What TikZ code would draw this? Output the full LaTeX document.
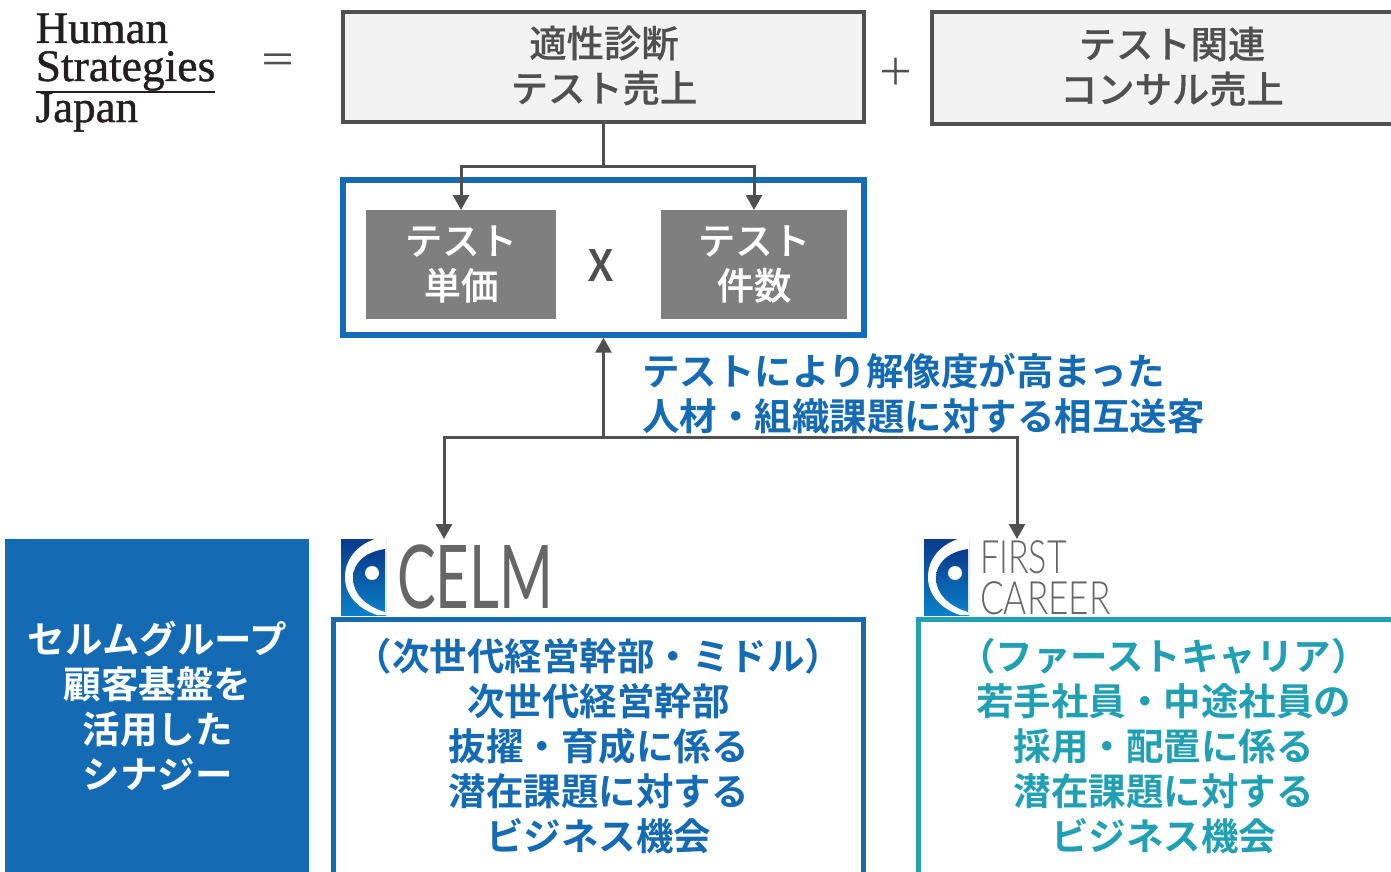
\documentclass[tikz,border=0pt]{standalone}
\usepackage{fontspec}
\setmainfont{Noto Sans CJK JP}
\newfontfamily\jpm[FakeBold=0.35]{Noto Sans CJK JP Medium}
\newfontfamily\jpb{Noto Sans CJK JP Bold}
\newfontfamily\logoserif[FakeBold=1]{Liberation Serif}
\newfontfamily\logosans{Lato Light}
\newfontfamily\logobig{Lato}
\usetikzlibrary{arrows.meta}
\definecolor{dk}{HTML}{505050}
\definecolor{bxf}{HTML}{F2F2F2}
\definecolor{gy}{HTML}{7F7F7F}
\definecolor{bl}{HTML}{156BB3}
\definecolor{tl}{HTML}{21A0B3}
\definecolor{lg}{HTML}{666666}
\definecolor{hsj}{HTML}{231F20}
\definecolor{emt}{HTML}{0B3A8C}
\definecolor{emb}{HTML}{0A80C8}
\tikzset{
  x=1pt,y=-1pt,
  bigbox/.style={draw=dk,line width=4.6pt,fill=bxf,inner sep=0pt},
  frame/.style={draw=#1,line width=5.4pt,fill=white,inner sep=0pt},
  tile/.style={fill=gy,inner sep=0pt,outer sep=0pt},
  med/.style={font=\jpm\fontsize{37.3}{45}\selectfont,align=center,inner sep=0pt,text=#1},
  bold/.style={font=\jpb\fontsize{37.5}{45}\selectfont,align=center,inner sep=0pt,text=#1},
  conn/.style={draw=dk,line width=3pt},
  tip/.style={conn,-{Triangle[length=15pt,width=16pt]}},
  logotext/.style={inner sep=0pt,anchor=base west,text=#1},
  emblem/.pic={
    \shade[top color=emt,bottom color=emb] (0,0) rectangle (45,76);
    \fill[white] (34,0) .. controls (14,7) and (4,22) .. (4,38) .. controls (4,57) and (18,70) .. (36,76) -- (45,76) -- (45,0) -- cycle;
    \shade[top color=emt,bottom color=emb] (44,10) .. controls (24,13) and (12,24) .. (12,39) .. controls (12,55) and (25,67) .. (44,73) -- cycle;
    \fill[white] (31,34) circle (7);
  }
}
\begin{document}
\begin{tikzpicture}
\useasboundingbox (0,0) rectangle (1391,872);
\fill[white] (0,0) rectangle (1391,872);
% brand
\node[logotext=hsj,font=\logoserif\fontsize{45}{45}\selectfont] (h1) at (35.5,43) {Human};
\node[logotext=hsj,font=\logoserif\fontsize{45}{45}\selectfont,xscale=1.012] (h2) at (35.5,81) {Strategies};
\node[logotext=hsj,font=\logoserif\fontsize{45}{45}\selectfont] (h3) at (35.5,122) {Japan};
\draw[hsj,line width=2pt] (36,92.5) -- (215,92.5);
\node[font=\fontsize{37}{37}\selectfont,text=dk,inner sep=0pt] (eq) at (278,63.5) {＝};
\node[font=\fontsize{37}{37}\selectfont,text=dk,inner sep=0pt] (pl) at (896,72) {＋};
% top boxes
\node[bigbox,minimum width=521pt,minimum height=110pt] (sales) at (603.5,67) {};
\node[bigbox,minimum width=568pt,minimum height=112pt] (cons) at (1216,68) {};
\node[med=dk] (salest) at (604,65.5) {適性診断\\テスト売上};
\node[med=dk] (const) at (1172,66.5) {テスト関連\\コンサル売上};
% formula
\node[frame=bl,minimum width=521pt,minimum height=155pt] (form) at (603.5,257.5) {};
\node[tile,minimum width=190pt,minimum height=109pt] (unit) at (461,264.5) {};
\node[tile,minimum width=186pt,minimum height=109pt] (cnt) at (754,264.5) {};
\node[med=white] (unitt) at (461,264) {テスト\\単価};
\node[med=white] (cntt) at (754,264) {テスト\\件数};
\node[font=\jpm\fontsize{43}{43}\selectfont,text=dk,inner sep=0pt] (times) at (600.5,265) {X};
% connectors top
\coordinate (split) at (603.5,166);
\draw[conn] (sales.south) -- (split);
\draw[tip] (split) -| (unit.north);
\draw[tip] (split) -| (cnt.north);
% synergy text
\node[bold=bl,align=left,anchor=west] (syn) at (642,393.5) {テストにより解像度が高まった\\人材・組織課題に対する相互送客};
% left panel
\node[fill=bl,inner sep=0pt,minimum width=304pt,minimum height=360pt,anchor=north west] (panel) at (5,539) {};
\node[bold=white] (panelt) at (157.5,706) {セルムグループ\\顧客基盤を\\活用した\\シナジー};
% logos
\pic at (341,539) {emblem};
\pic at (924,539) {emblem};
\node[logotext=lg,font=\logobig\fontsize{88}{88}\selectfont,xscale=0.66] (celm) at (397,608) {CELM};
\coordinate (celmt) at (444,539);
\node[logotext=lg,font=\logosans\fontsize{46}{46}\selectfont,xscale=0.74] (first) at (980,573) {FIRST};
\node[logotext=lg,font=\logosans\fontsize{46}{46}\selectfont,xscale=0.765] (career) at (980,614) {CAREER};
\coordinate (firstt) at (1017,539);
% bottom boxes
\node[frame=bl,minimum width=530pt,minimum height=300pt,anchor=north west] (cb) at (331,617) {};
\node[frame=tl,minimum width=600pt,minimum height=300pt,anchor=north west] (fb) at (916,617) {};
\node[bold=bl] (cbt) at (598.5,746.5) {（次世代経営幹部・ミドル）\\次世代経営幹部\\抜擢・育成に係る\\潜在課題に対する\\ビジネス機会};
\node[bold=tl] (fbt) at (1163.5,746.5) {（ファーストキャリア）\\若手社員・中途社員の\\採用・配置に係る\\潜在課題に対する\\ビジネス機会};
% connectors bottom
\coordinate (join) at (603.5,437);
\draw[tip] (join) -- (form.south);
\draw[tip] (join) -| (celmt);
\draw[tip] (join) -| (firstt);
\end{tikzpicture}
\end{document}
